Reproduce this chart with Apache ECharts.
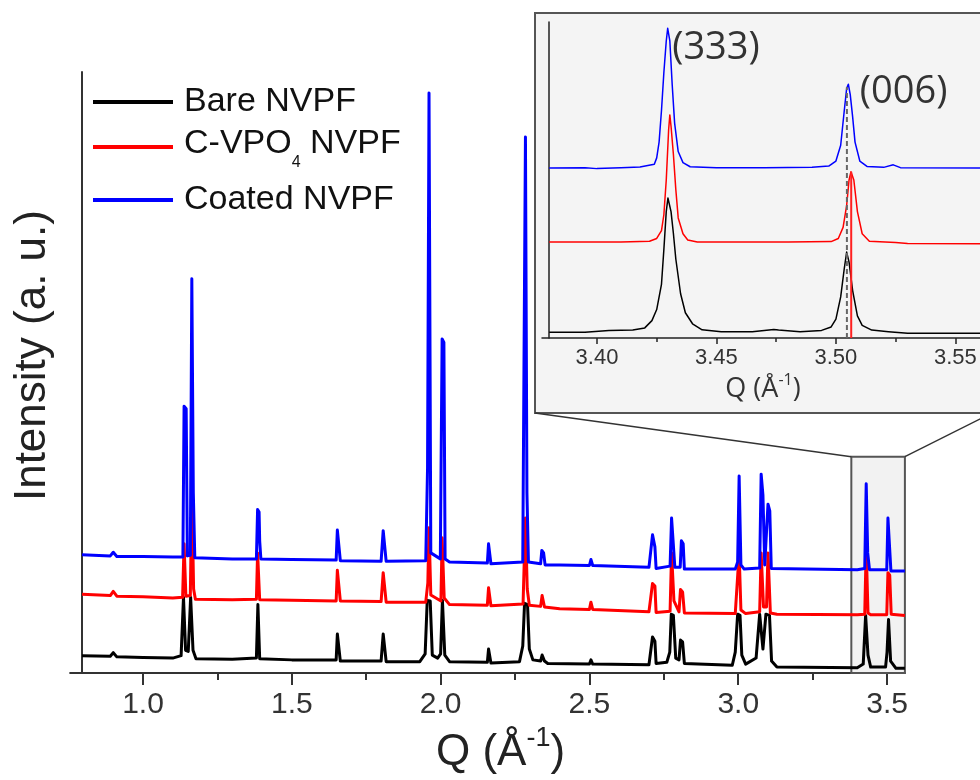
<!DOCTYPE html>
<html>
<head>
<meta charset="utf-8">
<script src="https://cdn.jsdelivr.net/npm/echarts@6.0.0/dist/echarts.min.js"></script>
<style>html,body{margin:0;padding:0;background:#fff}#c{width:980px;height:780px}</style>
</head>
<body>
<div id="c"></div>
<script>
// ---------- data ----------
const seriesNames = ['Bare NVPF', 'C-VPO4 NVPF', 'Coated NVPF'];
const xTickValues = [1.0, 1.5, 2.0, 2.5, 3.0, 3.5];
const xMinorTickValues = [1.25, 1.75, 2.25, 2.75, 3.25];
const insetTickValues = [3.40, 3.45, 3.50, 3.55];
const insetMinorTickValues = [3.425, 3.475, 3.525];
const zoomRange = [3.38, 3.56];
const zoomTop = 36;

// main panel: [Q, intensity (a.u.)]
const bareMain = [
 [0.795,2.9],[0.89,2.8],[0.900,3.4],[0.905,3.6],[0.912,2.7],[1.00,2.6],[1.10,2.5],[1.128,2.9],
 [1.136,12.6],[1.143,3.8],[1.152,3.6],[1.160,12.6],[1.168,3.8],[1.178,2.4],[1.30,2.3],[1.381,2.5],
 [1.386,11.4],[1.392,2.4],[1.50,2.2],[1.649,2.2],[1.653,6.5],[1.659,6.3],[1.663,2.0],[1.80,2.0],
 [1.807,6.5],[1.813,6.3],[1.817,1.9],[1.93,1.9],[1.948,3.2],[1.955,12.1],[1.965,12.0],[1.972,3.0],
 [1.990,2.5],[2.000,3.2],[2.006,12.1],[2.014,3.0],[2.03,1.9],[2.157,1.8],[2.161,4.0],[2.166,3.8],
 [2.169,1.7],[2.265,1.9],[2.276,4.5],[2.282,11.6],[2.292,11.4],[2.298,4.0],[2.31,2.2],[2.336,2.0],
 [2.341,3.0],[2.349,2.0],[2.36,1.6],[2.50,1.5],[2.505,2.2],[2.511,1.5],[2.70,1.4],[2.712,6.0],
 [2.720,5.3],[2.724,1.6],[2.760,1.8],[2.770,3.5],[2.775,9.8],[2.782,9.6],[2.790,2.5],[2.801,2.2],
 [2.806,5.5],[2.813,5.2],[2.819,1.6],[2.98,1.3],[2.990,3.5],[2.998,9.8],[3.006,9.6],[3.012,3.0],
 [3.025,1.5],[3.060,2.5],[3.072,9.8],[3.083,4.0],[3.093,9.8],[3.105,9.6],[3.112,2.0],[3.13,1.0],
 [3.40,0.9],[3.420,1.5],[3.428,9.6],[3.436,3.0],[3.445,1.0],[3.495,1.0],[3.500,3.5],[3.505,8.9],
 [3.512,2.0],[3.53,0.8],[3.56,0.8]
];
const cvpoMain = [
 [0.795,13.1],[0.89,12.9],[0.900,13.6],[0.905,13.8],[0.912,12.8],[1.00,12.7],[1.10,12.5],[1.133,12.6],
 [1.138,21.5],[1.144,12.8],[1.159,12.9],[1.164,30.8],[1.170,14.0],[1.176,12.3],[1.30,12.2],[1.381,12.3],
 [1.385,20.0],[1.392,12.2],[1.50,12.1],[1.649,12.0],[1.653,17.1],[1.659,16.8],[1.663,12.0],[1.80,11.9],
 [1.807,16.7],[1.813,16.5],[1.817,11.8],[1.95,11.8],[1.957,15.0],[1.961,24.2],[1.967,13.0],[2.001,12.0],
 [2.005,22.5],[2.012,12.5],[2.03,11.4],[2.157,11.3],[2.161,14.2],[2.166,14.0],[2.169,11.2],[2.277,11.5],
 [2.285,25.8],[2.291,14.0],[2.298,11.3],[2.336,11.1],[2.341,12.9],[2.349,11.0],[2.40,10.7],[2.50,10.6],
 [2.505,11.8],[2.511,10.6],[2.70,10.2],[2.712,14.9],[2.720,14.5],[2.724,10.1],[2.771,10.3],[2.776,20.0],
 [2.784,12.0],[2.801,10.2],[2.806,13.9],[2.813,13.5],[2.819,10.0],[2.99,9.9],[3.003,20.0],[3.009,10.5],
 [3.025,9.9],[3.072,10.2],[3.077,20.0],[3.085,11.0],[3.095,11.0],[3.100,20.0],[3.108,10.0],[3.13,9.8],
 [3.40,9.7],[3.425,9.8],[3.430,20.9],[3.436,10.0],[3.445,9.7],[3.499,9.7],[3.503,16.7],[3.509,16.3],
 [3.514,9.8],[3.56,9.6]
];
const coatedMain = [
 [0.795,19.7],[0.89,19.5],[0.900,20.1],[0.905,20.3],[0.912,19.4],[1.00,19.4],[1.10,19.3],[1.134,19.3],
 [1.138,44.4],[1.145,44.0],[1.149,19.5],[1.159,19.6],[1.164,65.6],[1.169,30.0],[1.174,19.2],[1.30,19.0],
 [1.381,19.0],[1.385,27.2],[1.390,26.8],[1.392,22.0],[1.396,19.0],[1.50,18.9],[1.649,18.8],[1.653,23.8],
 [1.659,23.5],[1.663,18.7],[1.80,18.6],[1.807,23.7],[1.813,23.4],[1.817,18.6],[1.95,18.7],[1.956,34.0],
 [1.961,96.5],[1.967,20.0],[1.999,19.0],[2.005,55.6],[2.011,55.0],[2.015,19.0],[2.03,18.5],[2.157,18.3],
 [2.161,21.5],[2.166,21.2],[2.169,18.2],[2.276,18.5],[2.280,50.5],[2.285,89.2],[2.290,30.0],[2.295,18.5],
 [2.336,18.2],[2.340,20.4],[2.346,20.0],[2.351,18.0],[2.40,18.0],[2.50,17.9],[2.505,18.9],[2.511,17.9],
 [2.70,17.6],[2.712,23.0],[2.720,21.0],[2.724,17.4],[2.771,17.8],[2.776,25.8],[2.782,25.5],[2.787,17.6],
 [2.805,17.6],[2.809,22.0],[2.815,21.5],[2.819,17.3],[2.99,17.3],[2.998,18.5],[3.003,32.8],[3.009,18.0],
 [3.020,17.3],[3.072,17.5],[3.077,33.1],[3.083,29.6],[3.089,18.0],[3.095,18.0],[3.100,28.1],[3.106,27.0],
 [3.111,17.4],[3.40,17.2],[3.425,17.4],[3.430,31.5],[3.435,20.0],[3.441,17.2],[3.499,17.2],[3.503,25.8],
 [3.509,25.5],[3.513,17.0],[3.56,17.0]
];

// inset panel: [Q, intensity (a.u., own scale)]
const bareInset = [
 [3.380,1.8],[3.395,1.8],[3.405,2.4],[3.415,2.5],[3.420,3.2],[3.423,5.5],[3.425,9],[3.427,17],[3.428,28],
 [3.429,40],[3.4297,44.3],[3.431,40],[3.432,33],[3.433,25],[3.435,14],[3.437,8],[3.440,4.5],[3.444,2.6],
 [3.452,2.0],[3.465,2.0],[3.474,2.7],[3.476,2.5],[3.485,2.0],[3.494,2.4],[3.498,3.5],[3.500,6],[3.502,13],
 [3.5035,22],[3.5045,27.2],[3.5055,24],[3.507,15],[3.509,7],[3.511,4],[3.515,2.5],[3.522,2.0],[3.530,1.5],
 [3.570,1.5]
];
const cvpoInset = [
 [3.380,30.4],[3.410,30.4],[3.422,30.6],[3.425,31.5],[3.427,34],[3.428,39],[3.429,50],[3.430,66],
 [3.4305,70.6],[3.431,67],[3.432,58],[3.433,47],[3.434,38],[3.436,33],[3.438,31],[3.442,30.4],[3.480,30.4],
 [3.498,30.5],[3.501,31.5],[3.503,35],[3.5045,42],[3.5055,50],[3.5063,52.6],[3.5075,50],[3.509,40],
 [3.511,33],[3.514,30.6],[3.525,30.2],[3.530,29.9],[3.570,29.8]
];
const coatedInset = [
 [3.380,53.8],[3.395,53.9],[3.400,53.6],[3.410,53.9],[3.418,54.1],[3.424,55],[3.425,57],[3.426,62],
 [3.427,72],[3.428,84],[3.429,94],[3.4296,98],[3.4305,94],[3.4315,80],[3.4325,68],[3.434,59],[3.436,55.5],
 [3.439,54.2],[3.450,53.9],[3.470,53.9],[3.490,54.0],[3.497,54.4],[3.500,56],[3.502,61],[3.5035,72],
 [3.5045,79],[3.5052,80.3],[3.506,77],[3.507,70],[3.508,62],[3.510,56],[3.513,54.3],[3.520,54.0],
 [3.524,54.8],[3.527,53.9],[3.570,53.8]
];
// reference peak positions drawn as vertical lines in the inset
const dashedPeak = [[3.5046, 0], [3.5046, 79.4]];
const redPeak = [[3.5064, 0], [3.5064, 52.6]];
const insetLabels = [{coord: [3.4296, 98], value: '(333)'}, {coord: [3.5052, 80.3], value: '(006)'}];

// ---------- chart ----------
const SANS = 'Arial, "Liberation Sans", sans-serif';
const SEGOE = '"Open Sans", "Noto Sans", sans-serif';
const chart = echarts.init(document.getElementById('c'), null, {renderer: 'canvas'});

function lineSeries(name, data, color, width, xi, yi, z) {
  return {name, type: 'line', data, xAxisIndex: xi, yAxisIndex: yi, symbol: 'none', showSymbol: false,
    color, lineStyle: {color, width, join: 'round'}, z: z || 2, silent: true, animation: false};
}

const option = {
  animation: false,
  backgroundColor: '#ffffff',
  grid: [
    {left: 70.1, right: 75.1, top: 72, bottom: 104},
    {left: 542, right: 0, top: 22, height: 316}
  ],
  xAxis: [
    {type: 'value', gridIndex: 0, position: 'bottom', min: 0.755, max: 3.56,
     axisLine: {show: true, lineStyle: {color: '#333', width: 2}},
     axisTick: {show: true, customValues: xTickValues, length: 12, lineStyle: {color: '#333', width: 2}},
     axisLabel: {show: true, customValues: xTickValues, formatter: v => v.toFixed(1), fontSize: 30,
       fontFamily: SANS, color: '#333', margin: 17},
     splitLine: {show: false},
     name: '{t|Q (Å}{sup|-1}{t|)}', nameLocation: 'middle', nameGap: 47,
     nameTextStyle: {fontFamily: SANS, color: '#222', padding: [0, 0, 0, 26],
       rich: {t: {fontSize: 44, fontFamily: SANS, color: '#222', padding: [6, 0, 0, 0]},
              sup: {fontSize: 27, fontFamily: SANS, color: '#222', verticalAlign: 'top'}}}},
    {type: 'value', gridIndex: 0, position: 'bottom', min: 0.755, max: 3.56,
     axisLine: {show: false},
     axisTick: {show: true, customValues: xMinorTickValues, length: 7, lineStyle: {color: '#333', width: 2}},
     axisLabel: {show: false}, splitLine: {show: false}},
    {type: 'value', gridIndex: 1, position: 'bottom', min: 3.377, max: 3.5603,
     axisLine: {show: true, lineStyle: {color: '#222', width: 1.5}},
     axisTick: {show: true, customValues: insetTickValues, length: 6, lineStyle: {color: '#222', width: 1.5}},
     axisLabel: {show: true, customValues: insetTickValues, formatter: v => v.toFixed(2), fontSize: 22,
       fontFamily: SANS, color: '#333', margin: 9},
     splitLine: {show: false},
     name: '{t|Q (Å}{sup|-1}{t|)}', nameLocation: 'middle', nameGap: 34,
     nameTextStyle: {fontFamily: SEGOE, color: '#333', padding: [0, 0, 0, 4],
       rich: {t: {fontSize: 27, fontFamily: SEGOE, color: '#333', padding: [4, 0, 0, 0]},
              sup: {fontSize: 16, fontFamily: SEGOE, color: '#333', verticalAlign: 'top'}}}},
    {type: 'value', gridIndex: 1, position: 'bottom', min: 3.377, max: 3.5603,
     axisLine: {show: false},
     axisTick: {show: true, customValues: insetMinorTickValues, length: 4, lineStyle: {color: '#222', width: 1.5}},
     axisLabel: {show: false}, splitLine: {show: false}}
  ],
  yAxis: [
    {type: 'value', gridIndex: 0, min: 0, max: 100, offset: -12,
     axisLine: {show: true, lineStyle: {color: '#333', width: 2}},
     axisTick: {show: false}, axisLabel: {show: false}, splitLine: {show: false},
     name: 'Intensity (a. u.)', nameLocation: 'middle', nameRotate: 90, nameGap: 27,
     nameTextStyle: {fontSize: 44, fontFamily: SANS, color: '#222', padding: [0, 0, 0, 34]}},
    {type: 'value', gridIndex: 1, min: 0, max: 100, offset: -7,
     axisLine: {show: true, lineStyle: {color: '#222', width: 1.5}},
     axisTick: {show: false}, axisLabel: {show: false}, splitLine: {show: false}}
  ],
  legend: [0, 1, 2].map(i => ({
    data: [seriesNames[i]], left: 93, top: [85, 126.5, 183][i], orient: 'vertical', padding: 0,
    icon: 'rect', itemWidth: 80, itemHeight: 4, selectedMode: false,
    formatter: name => name === 'C-VPO4 NVPF' ? '{t|C-VPO}{s|4}{t| NVPF}' : name,
    textStyle: {fontSize: 34, fontFamily: SANS, color: '#111', padding: [0, 0, 0, 6],
      rich: {t: {fontSize: 34, fontFamily: SANS, color: '#111', padding: [3, 0, 0, 0], verticalAlign: 'top'},
             s: {fontSize: 16, fontFamily: SANS, color: '#111', padding: [31, 0, 0, 0], verticalAlign: 'top'}}}
  })),
  series: [
    {name: 'zoombox', type: 'line', data: [], xAxisIndex: 0, yAxisIndex: 0, z: 1, silent: true,
     markArea: {silent: true, z: 1, itemStyle: {color: '#f2f2f2', borderColor: '#555', borderWidth: 2},
       data: [[{xAxis: zoomRange[0], yAxis: 0}, {xAxis: zoomRange[1], yAxis: zoomTop}]]}},
    lineSeries(seriesNames[0], bareMain, '#000000', 3, 0, 0, 2),
    lineSeries(seriesNames[1], cvpoMain, '#ff0000', 3, 0, 0, 3),
    lineSeries(seriesNames[2], coatedMain, '#0000ff', 3, 0, 0, 4),
    lineSeries('bare-inset', bareInset, '#000000', 1.5, 2, 1, 2),
    lineSeries('cvpo-inset', cvpoInset, '#ff0000', 1.5, 2, 1, 3),
    Object.assign(lineSeries('coated-inset', coatedInset, '#0000ff', 1.5, 2, 1, 4), {
      markPoint: {symbol: 'circle', symbolSize: 1, silent: true, itemStyle: {color: 'rgba(0,0,0,0)'},
        label: {show: true, formatter: p => p.value, fontFamily: SEGOE, fontSize: 38, color: '#333',
          position: [5, 0]},
        data: [
          Object.assign({}, insetLabels[0], {label: {position: [5, 1]}}),
          Object.assign({}, insetLabels[1], {label: {position: [12, -11]}})
        ]}
    }),
    lineSeries('red-peak', redPeak, '#ff2020', 2, 2, 1, 5),
    Object.assign(lineSeries('dashed-peak', dashedPeak, '#666666', 2, 2, 1, 6), {
      lineStyle: {color: '#666666', width: 2, type: [5, 3]}})
  ]
};
chart.setOption(option);

// inset frame and connector lines (decoration), anchored to the zoom box position
const tl = chart.convertToPixel({xAxisIndex: 0, yAxisIndex: 0}, [zoomRange[0], zoomTop]);
const tr = chart.convertToPixel({xAxisIndex: 0, yAxisIndex: 0}, [zoomRange[1], zoomTop]);
const box = {x: 535, y: 13, w: 457, h: 400};
chart.setOption({
  graphic: [
    {type: 'rect', id: 'insetbox', z: -1, silent: true,
     shape: {x: box.x, y: box.y, width: box.w, height: box.h},
     style: {fill: '#f4f4f4', stroke: '#555', lineWidth: 2}},
    {type: 'line', id: 'c1', z: 5, silent: true,
     shape: {x1: tl[0], y1: tl[1], x2: box.x, y2: box.y + box.h}, style: {stroke: '#333', lineWidth: 1.5}},
    {type: 'line', id: 'c2', z: 5, silent: true,
     shape: {x1: tr[0], y1: tr[1], x2: box.x + box.w, y2: box.y + box.h}, style: {stroke: '#333', lineWidth: 1.5}}
  ]
});
</script>
</body>
</html>
